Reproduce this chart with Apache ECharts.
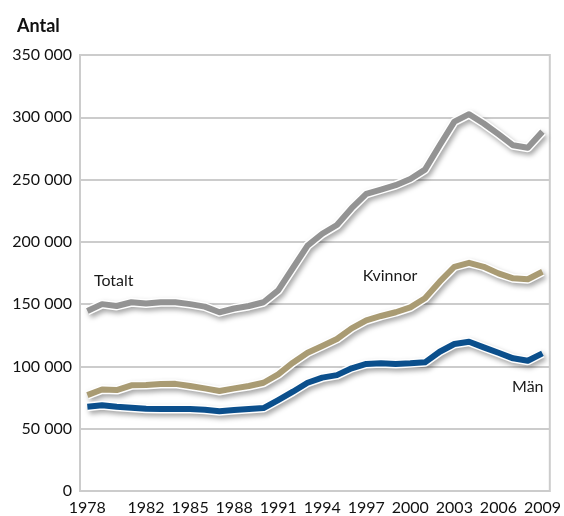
<!DOCTYPE html>
<html lang="sv">
<head>
    <meta charset="UTF-8">
    <title>Antal</title>
    <script src="https://cdn.jsdelivr.net/npm/echarts@6/dist/echarts.min.js"></script>
    <style>
        body { margin: 0; background: #fff; }
        #main { width: 564px; height: 516px; }
    </style>
</head>
<body>
    <div id="main"></div>
    <script>
        // år 1978-2009
        const years = [];
        for (let y = 1978; y <= 2009; y++) years.push(String(y));
        const shownYears = ['1978', '1982', '1985', '1988', '1991', '1994', '1997', '2000', '2003', '2006', '2009'];

        const totalt = [144500, 150000, 148500, 151500, 150500, 151500, 151500, 150000, 148000, 143500, 146500,
            148500, 151500, 161000, 179000, 197000, 206500, 213500, 227000, 238500, 242000, 245500,
            250500, 258000, 277500, 296500, 302500, 295000, 286500, 277500, 275500, 288500];
        const kvinnor = [77000, 81500, 81000, 84800, 85000, 85900, 86000, 84300, 82400, 80300, 82400,
            84300, 86900, 93600, 103000, 111000, 116400, 122000, 130600, 137000, 140500, 143500,
            147400, 154700, 168000, 180000, 183200, 180000, 174700, 170700, 170000, 176000];
        const man = [67700, 68800, 67700, 66900, 66000, 65800, 65800, 65800, 65300, 64000, 65000,
            65800, 66600, 73000, 79700, 86900, 91000, 93000, 98500, 102000, 102500, 102000,
            102500, 103300, 111800, 118000, 119800, 115300, 111000, 106500, 104600, 110500];

        const font = 'Lato, "Noto Sans", sans-serif';
        const chart = echarts.init(document.getElementById('main'));

        function outline(data) {
            return {
                type: 'line', data: data, symbol: 'none', silent: true, z: 2,
                lineStyle: {
                    color: '#ffffff', width: 9, join: 'round',
                    shadowColor: 'rgba(0,0,0,0.35)', shadowBlur: 5, shadowOffsetX: 2, shadowOffsetY: 3
                }
            };
        }

        function seriesLine(name, data, color, tag) {
            return {
                name: name, type: 'line', data: data, symbol: 'none', z: 3,
                lineStyle: { color: color, width: 6, join: 'round' },
                markPoint: {
                    symbol: 'circle', symbolSize: 1,
                    itemStyle: { color: 'rgba(0,0,0,0)' },
                    label: {
                        show: true, formatter: name, color: '#1a1a1a',
                        fontSize: 16, fontFamily: font, offset: tag.offset
                    },
                    data: [{ coord: tag.coord }]
                }
            };
        }

        chart.setOption({
            animation: false,
            title: {
                text: 'Antal', left: 12, top: 12,
                textStyle: { fontSize: 18, fontWeight: 'bold', fontFamily: font, color: '#111' }
            },
            grid: {
                left: 80, right: 13, top: 55, bottom: 25,
                show: true, borderColor: '#cccccc', borderWidth: 2
            },
            xAxis: {
                type: 'category', data: years, boundaryGap: true,
                axisLine: { show: false },
                axisTick: { show: false },
                axisLabel: {
                    interval: (i, v) => shownYears.includes(v),
                    fontSize: 16, fontFamily: font, color: '#111', margin: 9
                }
            },
            yAxis: {
                type: 'value', min: 0, max: 350000, interval: 50000,
                axisLine: { show: false },
                axisTick: { show: false },
                splitLine: { lineStyle: { color: '#cccccc', width: 2 } },
                axisLabel: {
                    fontSize: 16, fontFamily: font, color: '#111', margin: 8,
                    formatter: v => v === 0 ? '0' : String(v).replace(/\B(?=(\d{3})+(?!\d))/g, ' ')
                }
            },
            series: [
                outline(totalt), outline(kvinnor), outline(man),
                seriesLine('Totalt', totalt, '#939393', { coord: ['1980', 168500], offset: [-3, 0] }),
                seriesLine('Kvinnor', kvinnor, '#a99b73', { coord: ['1998', 173000], offset: [9, 0] }),
                seriesLine('Män', man, '#0b4f8c', { coord: ['2008', 84000], offset: [0, 0] })
            ]
        });
    </script>
</body>
</html>
